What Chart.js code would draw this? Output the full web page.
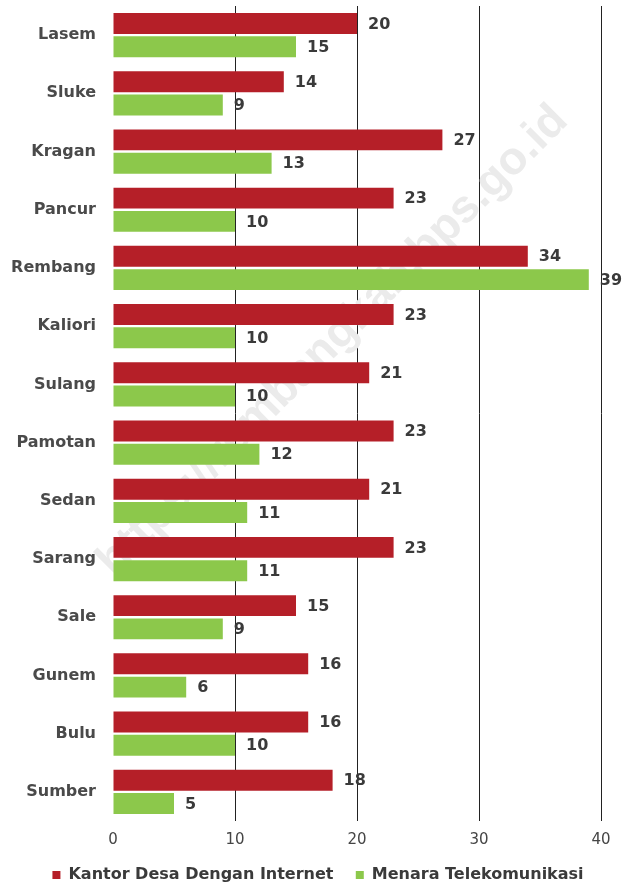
<!DOCTYPE html>
<html>
<head>
<meta charset="utf-8">
<script src="https://cdn.jsdelivr.net/npm/chart.js@4/dist/chart.umd.min.js"></script>
<style>
  html, body { margin: 0; padding: 0; background: #fff; overflow: hidden; }
  #wrap { width: 623px; height: 893px; position: relative; }
</style>
</head>
<body>
<div id="wrap"><canvas id="kecChart"></canvas></div>
<script>
const kecamatan = ['Lasem', 'Sluke', 'Kragan', 'Pancur', 'Rembang', 'Kaliori', 'Sulang',
    'Pamotan', 'Sedan', 'Sarang', 'Sale', 'Gunem', 'Bulu', 'Sumber'];
const kantorDesa = [20, 14, 27, 23, 34, 23, 21, 23, 21, 23, 15, 16, 16, 18];
const menaraTelekom = [15, 9, 13, 10, 39, 10, 10, 12, 11, 11, 9, 6, 10, 5];
const xTicks = [0, 10, 20, 30, 40];

const FONT = '"DejaVu Sans", "Liberation Sans", Arial, sans-serif';

// watermark behind the bars
const watermark = {
    id: 'watermark',
    beforeDatasetsDraw(chart) {
        const ctx = chart.ctx;
        ctx.save();
        ctx.translate(333, 341);
        ctx.rotate(-Math.PI / 4);
        ctx.font = 'bold 46px "Liberation Sans", Arial, sans-serif';
        ctx.fillStyle = '#ebebeb';
        ctx.textAlign = 'center';
        ctx.textBaseline = 'middle';
        ctx.fillText('https://rembangkab.bps.go.id', 0, 0);
        ctx.restore();
    }
};

// value labels at the end of each bar
const barValues = {
    id: 'barValues',
    afterDatasetsDraw(chart) {
        const ctx = chart.ctx;
        ctx.save();
        ctx.font = 'bold 16px ' + FONT;
        ctx.fillStyle = '#3a3a3a';
        ctx.textBaseline = 'middle';
        chart.data.datasets.forEach((ds, i) => {
            chart.getDatasetMeta(i).data.forEach((bar, j) => {
                ctx.fillText(ds.data[j], bar.x + 11, bar.y + 1);
            });
        });
        ctx.restore();
    }
};

new Chart(document.getElementById('kecChart'), {
    type: 'bar',
    data: {
        labels: kecamatan,
        datasets: [{
            label: 'Kantor Desa Dengan Internet',
            data: kantorDesa,
            backgroundColor: '#b51f28',
            categoryPercentage: 0.8,
            barPercentage: 0.9
        }, {
            label: 'Menara Telekomunikasi',
            data: menaraTelekom,
            backgroundColor: '#8cc84b',
            categoryPercentage: 0.8,
            barPercentage: 0.9
        }]
    },
    options: {
        indexAxis: 'y',
        responsive: true,
        maintainAspectRatio: false,
        animation: false,
        // left padding only to centre the legend like the original
        layout: { padding: { top: 6, right: 22, bottom: 0, left: 35 } },
        scales: {
            x: {
                min: 0, max: 40,
                afterBuildTicks: axis => { axis.ticks = xTicks.map(v => ({ value: v })); },
                afterFit: scale => { scale.height = 46; },
                grid: {
                    color: ctx => ctx.tick && ctx.tick.value === 0 ? 'rgba(0,0,0,0)' : '#222',
                    lineWidth: 1,
                    drawTicks: false
                },
                border: { display: false },
                ticks: {
                    padding: 10,
                    color: '#454545',
                    font: { family: FONT, size: 15 }
                }
            },
            y: {
                grid: { display: false, drawTicks: false },
                border: { display: false },
                afterFit: scale => {
                    scale.width = 78;
                    scale.paddingTop = 0;
                    scale.paddingBottom = 0;
                    scale._computeLabelArea = () => undefined; // don't clip long labels
                },
                ticks: {
                    padding: 17,
                    color: '#4a4a4a',
                    font: { family: FONT, size: 16, weight: 'bold' }
                }
            }
        },
        plugins: {
            tooltip: { enabled: false },
            legend: {
                position: 'bottom',
                labels: {
                    boxWidth: 8, boxHeight: 8,
                    padding: 0,
                    color: '#3a3a3a',
                    font: { family: FONT, size: 16, weight: 'bold', lineHeight: 1 },
                    generateLabels: chart => {
                        const items = Chart.defaults.plugins.legend.labels.generateLabels(chart);
                        items[0].text += '    ';
                        return items;
                    }
                }
            }
        }
    },
    plugins: [watermark, barValues]
});
</script>
</body>
</html>
